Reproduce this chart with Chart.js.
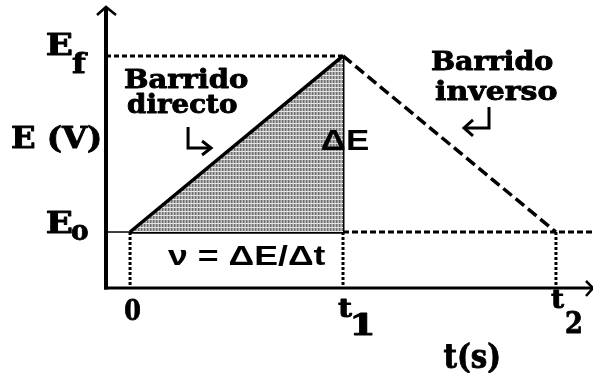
<!DOCTYPE html>
<html>
<head>
<meta charset="utf-8">
<script src="https://cdn.jsdelivr.net/npm/chart.js@4"></script>
<style>
  html, body { margin: 0; padding: 0; background: #fff; }
  canvas { display: block; }
</style>
</head>
<body>
<canvas id="sweep" width="593" height="373"></canvas>
<script>
// potential program of a linear sweep: E0 -> Ef (forward) -> E0 (reverse)
const sweepTimes = [0, 1, 2];
const sweepPotentials = [0, 1, 0];
const timeTicks = ['0', 't1', 't2'];
const potentialLevels = [0, 1];
const potentialTicks = ['Eo', 'Ef'];

// axis extents (arrow tips sit at the max ends)
const tMin = -0.113, tMax = 2.174;
const eMin = -0.318, eMax = 1.278;

const [t0, t1, t2] = sweepTimes;
const E0 = sweepPotentials[0], Ef = sweepPotentials[1];
const pt = (x, y) => ({x, y});

// fine dotted grey texture under the forward ramp
function makeShade() {
  const tile = document.createElement('canvas');
  tile.width = 3; tile.height = 4;
  const tc = tile.getContext('2d');
  tc.fillStyle = '#bababa'; tc.fillRect(0, 0, 3, 4);
  tc.fillStyle = '#707070'; tc.fillRect(0, 0, 1, 4);
  tc.fillStyle = '#9c9c9c'; tc.fillRect(1, 0, 1, 4);
  tc.fillStyle = '#e6e6e6'; tc.fillRect(0, 3, 3, 1);
  return document.getElementById('sweep').getContext('2d').createPattern(tile, 'repeat');
}

function line(data, width, dash, extra) {
  return Object.assign({
    data, showLine: true, borderColor: '#000', borderWidth: width,
    borderDash: dash || [], pointRadius: 0, fill: false, tension: 0
  }, extra || {});
}

const datasets = [
  // forward sweep with shaded triangle down to E0
  line(sweepTimes.slice(0, 2).map((t, i) => pt(t, sweepPotentials[i])), 3.5, null,
       {fill: {value: E0}, backgroundColor: makeShade()}),
  // reverse sweep
  line([pt(t1, Ef), pt(t2, sweepPotentials[2])], 3.5, [11, 5]),
  // Ef guide
  line([pt(tMin, Ef), pt(t1, Ef)], 3, [5, 3]),
  // E0 level: thin lead-in, solid base, dotted continuation
  line([pt(tMin, E0), pt(t0, E0)], 1.5),
  line([pt(t0, E0), pt(t1, E0)], 3.5),
  line([pt(t1, E0), pt(tMax, E0)], 3, [6, 3]),
  // delta E side of the triangle
  line([pt(t1, E0), pt(t1, Ef)], 3),
  // drop lines to the time axis
  ...sweepTimes.map(t => line([pt(t, E0), pt(t, eMin)], 3, [3, 2]))
];

// draws text so its ink spans `width` px starting at x; serif text gets a
// thin outline to make it heavier
function put(ctx, str, x, y, size, width, family) {
  const serif = !family;
  ctx.font = `bold ${size}px ${family || '"DejaVu Serif"'}`;
  const m = ctx.measureText(str);
  const ink = m.actualBoundingBoxLeft + m.actualBoundingBoxRight;
  const k = width ? width / ink : 1;
  ctx.save();
  ctx.translate(x + m.actualBoundingBoxLeft * k, y);
  ctx.scale(k, 1);
  ctx.fillText(str, 0, 0);
  if (serif) {
    ctx.lineWidth = 0.9;
    ctx.lineJoin = 'round';
    ctx.strokeText(str, 0, 0);
  }
  ctx.restore();
}

function polyline(ctx, pts, w) {
  ctx.beginPath();
  ctx.moveTo(pts[0][0], pts[0][1]);
  pts.slice(1).forEach(p => ctx.lineTo(p[0], p[1]));
  ctx.lineWidth = w;
  ctx.stroke();
}

const decor = {
  id: 'decor',
  afterDatasetsDraw(chart) {
    const ctx = chart.ctx;
    const X = v => chart.scales.x.getPixelForValue(v);
    const Y = v => chart.scales.y.getPixelForValue(v);
    const ax = X(tMin), ay = Y(eMin);
    ctx.save();
    ctx.fillStyle = '#000';
    ctx.strokeStyle = '#000';
    ctx.textAlign = 'left';
    ctx.textBaseline = 'alphabetic';
    ctx.lineCap = 'butt';
    ctx.lineJoin = 'miter';

    // axes with open arrowheads
    polyline(ctx, [[ax, ay + 1.5], [ax, Y(eMax)]], 4);
    polyline(ctx, [[ax - 2, ay], [X(tMax), ay]], 3);
    polyline(ctx, [[ax - 9, Y(eMax) + 8], [ax, Y(eMax)], [ax + 10, Y(eMax) + 8]], 2.5);
    polyline(ctx, [[X(tMax) - 7, ay - 7], [X(tMax), ay], [X(tMax) - 7, ay + 8]], 2.5);

    // potential tick labels
    potentialLevels.forEach((v, i) => {
      const [main, sub] = [potentialTicks[i][0], potentialTicks[i].slice(1)];
      put(ctx, main, ax - 59, Y(v) + (i ? -1 : 1), 30, 25);
      put(ctx, sub, ax - 34, Y(v) + (i ? 17 : 8), 28, 16);
    });

    // time tick labels
    put(ctx, timeTicks[0], X(t0) - 5, ay + 32, 27, 15);
    put(ctx, timeTicks[1][0], X(t1) - 5, ay + 29, 26, 14);
    put(ctx, timeTicks[1].slice(1), X(t1) + 10, ay + 47, 30, 19);
    put(ctx, timeTicks[2][0], X(t2) - 5, ay + 20, 26, 13);
    put(ctx, timeTicks[2].slice(1), X(t2) + 10, ay + 45, 29, 15);

    // axis titles
    put(ctx, 'E (V)', ax - 94, Y(0.5) + 4, 30, 88);
    put(ctx, 't(s)', X(1.5) - 6, ay + 80, 34, 55);

    // sweep annotations
    put(ctx, 'Barrido', X(t0) - 5, Y(Ef) + 32, 26, 123);
    put(ctx, 'directo', X(t0) - 2, Y(Ef) + 57, 26, 109);
    put(ctx, 'Barrido', X(t1) + 89, Y(Ef) + 14, 26, 121);
    put(ctx, 'inverso', X(t1) + 92, Y(Ef) + 44, 26, 122);
    put(ctx, 'ΔE', X(t1) - 21, Y(0.5) + 6, 30, 46, '"Liberation Sans"');
    put(ctx, 'ν = ΔE/Δt', X(t0) + 38, Y(E0) + 33, 28, 157, '"Liberation Sans"');

    // bent pointer arrows
    const a = X(t0) + 58, b = Y(Ef) + 92;
    polyline(ctx, [[a, Y(Ef) + 71], [a, b], [a + 22, b]], 3);
    polyline(ctx, [[a + 14, b - 7], [a + 23, b], [a + 14, b + 7]], 3);
    const c = X(t1) + 146, d = Y(Ef) + 72;
    polyline(ctx, [[c, Y(Ef) + 51], [c, d], [c - 24, d]], 3);
    polyline(ctx, [[c - 16, d - 8], [c - 25, d], [c - 16, d + 8]], 3);
    ctx.restore();
  }
};

new Chart(document.getElementById('sweep'), {
  type: 'scatter',
  data: {datasets},
  options: {
    responsive: false,
    animation: false,
    layout: {padding: {left: 106, top: 7, right: 0, bottom: 85}},
    plugins: {legend: {display: false}, tooltip: {enabled: false}},
    scales: {
      x: {type: 'linear', display: false, min: tMin, max: tMax},
      y: {type: 'linear', display: false, min: eMin, max: eMax}
    }
  },
  plugins: [decor]
});
</script>
</body>
</html>
